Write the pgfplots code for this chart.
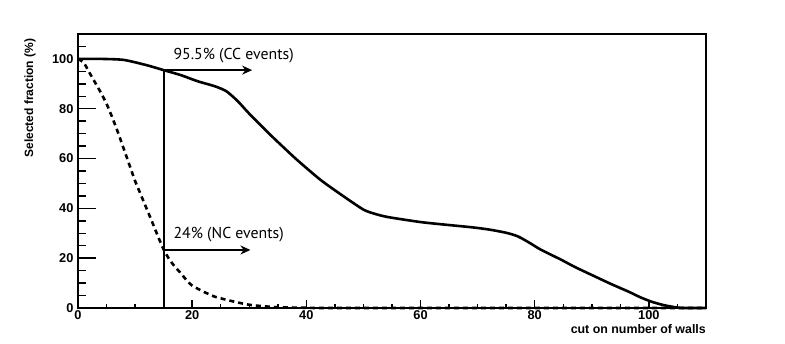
\documentclass[border=0pt]{standalone}
\usepackage{fontspec}
\setmainfont{Liberation Sans}
\newfontfamily\annotfont{PT Sans}
\usepackage{pgfplots}
\pgfplotsset{compat=1.18}
\usetikzlibrary{arrows.meta,calc}

\pgfplotsset{
  wallsbase/.style={
    scale only axis, width=628pt, height=274pt,
    xmin=0, xmax=110, ymin=0, ymax=110,
    axis line style={line width=1.6pt},
    tick style={line width=1.4pt, black},
    tick align=inside,
    xtick pos=bottom, ytick pos=left,
    /pgf/number format/assume math mode=true,
    tick label style={font=\fontsize{12.8}{14}\selectfont\bfseries},
    clip=false,
  }
}

\begin{document}
\begin{tikzpicture}
% y ticks (long) and the curves
\begin{axis}[wallsbase, name=main,
    xtick=\empty,
    ytick={0,20,...,100},
    minor ytick={5,10,15,25,30,35,45,50,55,65,70,75,85,90,95,105},
    major tick length=18pt, minor tick length=8pt,
    yticklabel style={xshift=-1pt},
    ylabel={Selected fraction (\%)},
    ylabel style={at={(axis description cs:-0.0764,0.995)}, anchor=east,
                  font=\fontsize{12}{13}\selectfont\bfseries},
]
  % CC events
  \addplot[black, line width=2.6pt, smooth, tension=0.4] coordinates {
    (0,100) (4,100) (8,99.6) (12,97.5) (15,95.5) (18,93.5) (21,91) (24,89)
    (26,87) (28,83) (30,78) (33.7,69.5) (36,64.5) (38.4,59.4) (42.5,51.4)
    (46.6,44.7) (50,39.5) (52,37.8) (54.3,36.5) (60,34.5) (65,33.3)
    (69,32.4) (72,31.5) (75,30.2) (77,28.8) (79,26.3) (81,23.5) (84.7,19.3)
    (87,16.5) (90.6,12.6) (93.5,9.5) (96.4,6.6) (98.5,4.3) (100.5,2.5)
    (102.5,1.2) (104.6,0.3) (106,0) (110,0)
  };
  % NC events
  \addplot[black, line width=2.6pt, dash pattern=on 5pt off 4pt, smooth, tension=0.35] coordinates {
    (0,100) (1,98.5) (2,94.5) (3,90.5) (4,86.5) (5,82) (6,76.5) (7,70.5)
    (8,64) (9,57.5) (10,51) (11,45.5) (12,40) (13,34.5) (14,28.8) (15,23.5)
    (16,19.5) (17,16.5) (18,14) (19,11.2) (20,9) (22,6.5) (23,5.5) (24,4.5)
    (26,3.3) (28,2.2) (30,1.3) (32,0.8) (35,0.3) (40,0.1) (45,0) (110,0)
  };
  % cut at 15 walls
  \addplot[black, line width=2pt] coordinates {(15,0) (15,95.5)};
  \addplot[black, line width=2pt, -{Stealth[length=10pt,width=9pt]}]
    coordinates {(15,95.5) (30.5,95.5)};
  \addplot[black, line width=2pt, -{Stealth[length=10pt,width=9pt]}]
    coordinates {(15,23.3) (30.2,23.3)};
  \node[anchor=west, inner sep=0pt, font=\annotfont\fontsize{15.8}{17}\selectfont]
    at (axis cs:16.7,101.2) {95.5\% (CC events)};
  \node[anchor=west, inner sep=0pt, font=\annotfont\fontsize{15.8}{17}\selectfont]
    at (axis cs:16.7,29.6) {24\% (NC events)};
\end{axis}
% x ticks (short)
\begin{axis}[wallsbase,
    ytick=\empty,
    xtick={0,20,...,100},
    minor xtick={5,10,15,25,30,35,45,50,55,65,70,75,85,90,95,105},
    major tick length=8pt, minor tick length=4pt,
    xticklabel style={yshift=1pt},
    xlabel={cut on number of walls},
    xlabel style={at={(axis description cs:1,0)}, anchor=north east,
                  yshift=-16pt, inner sep=0pt,
                  font=\fontsize{12.4}{14}\selectfont\bfseries},
]
\end{axis}
\pgfresetboundingbox
\path[use as bounding box] ($(main.south west)+(-78pt,-35pt)$)
  rectangle ($(main.north east)+(79pt,34pt)$);
\end{tikzpicture}
\end{document}
